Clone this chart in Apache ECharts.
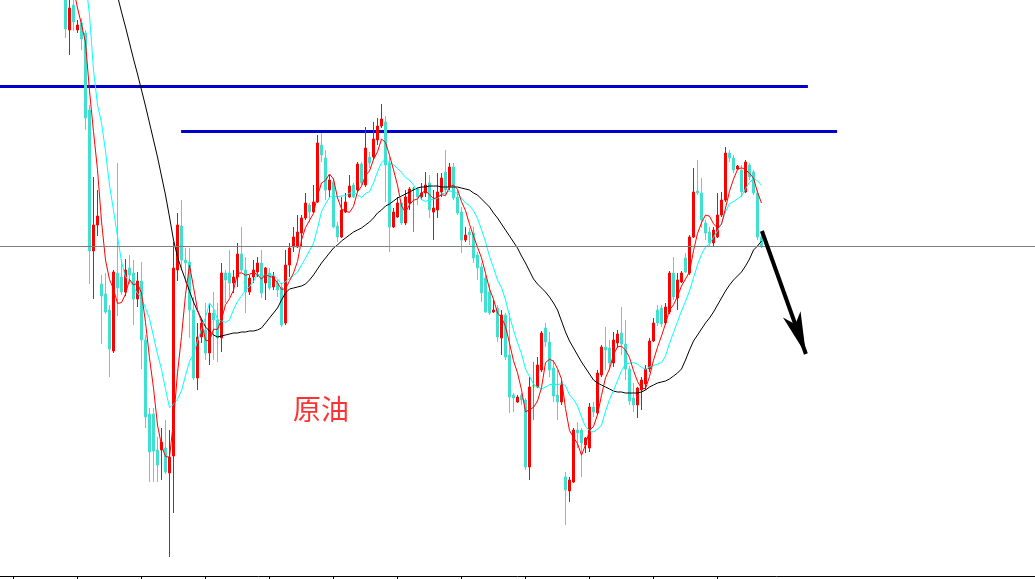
<!DOCTYPE html>
<html><head><meta charset="utf-8">
<script src="https://cdn.jsdelivr.net/npm/echarts@6/dist/echarts.min.js"></script>
<style>html,body{margin:0;padding:0;background:#fff;overflow:hidden}#c{width:1035px;height:579px}</style>
</head><body><div id="c"></div>
<script>
// bar index 0..174 (oldest -> newest), prices in chart points
const opens = [610,570,595,570,577,567,490,349,375,316, 306,290,249,327,323,308,332,327,301,319,
260,186,186,150,150,152,127,144,330,374, 340,338,290,222,263,270,247,287,280,262,
327,327,317,323,346,330,308,323,328,337, 317,327,313,317,313,277,335,353,353,367,
382,395,388,398,455,442,410,418,374,363, 388,403,415,410,436,415,443,443,460,474,
478,437,373,383,397,377,397,411,411,403, 407,417,388,390,408,428,413,433,403,388,
360,368,367,345,333,322,308,288,292,262, 285,245,205,198,205,200,133,214,213,230,
272,258,232,205,198,123,109,118,170,170, 155,152,193,187,225,253,252,237,257,267,
256,231,202,195,210,216,231,259,290,292, 277,288,327,302,318,342,327,363,409,407,
377,368,357,363,385,400,447,442,431,430, 408,435,428,407,363];
const closes = [571,592,578,575,561,482,349,375,384,304, 288,251,328,312,308,330,325,301,319,260,
183,148,149,135,158,128,143,332,375,340, 337,290,222,263,277,247,287,280,262,327,
320,317,323,346,330,308,322,330,337,307, 332,312,324,310,275,335,352,363,368,382,
397,388,398,457,445,410,420,373,363,390, 398,414,403,436,417,452,437,461,474,481,
435,373,388,397,377,403,411,411,403,407, 415,390,392,408,422,410,433,402,387,360,
365,365,342,332,307,288,287,290,263,285, 243,203,202,203,200,133,213,214,235,267,
258,230,204,198,215,110,120,170,167,157, 162,193,188,227,253,250,237,260,266,256,
231,199,195,212,220,231,259,277,277,276, 293,327,303,320,327,328,363,408,407,380,
367,357,370,385,400,447,442,430,434,408, 438,423,407,363,354];
const lows = [562,545,569,567,550,470,316,301,364,256, 286,223,247,284,305,304,316,275,293,231,
172,118,118,118,120,126,43,87,319,330, 317,262,220,210,257,240,235,240,238,248,
297,303,307,313,328,287,305,317,323,302, 300,310,310,303,273,275,323,348,352,353,
380,378,387,397,438,400,403,372,358,362, 387,402,402,408,415,413,432,440,455,472,
398,348,372,382,375,375,390,368,395,400, 403,382,360,382,403,405,410,400,385,347,
358,355,337,320,298,287,285,287,258,245, 240,187,188,197,195,130,120,180,212,228,
253,223,198,180,195,75,98,117,152,123, 147,148,183,185,223,230,230,233,252,245,
220,195,188,182,190,210,228,258,274,273, 275,286,300,290,317,327,325,362,405,372,
360,353,353,362,383,398,438,427,430,403, 407,420,405,360,352];
const highs = [620,605,600,580,582,570,495,423,410,325, 327,295,330,437,341,341,345,340,328,338,
265,192,192,163,172,180,170,358,387,400, 352,352,303,277,280,297,297,308,297,337,
330,350,330,357,373,343,325,340,343,350, 333,332,328,320,317,350,357,373,385,385,
407,397,415,465,467,450,425,422,378,403, 407,425,417,438,438,473,448,478,482,496,
484,443,392,403,398,410,413,413,413,417, 428,425,410,427,427,450,437,437,410,393,
373,372,373,348,337,325,315,300,295,290, 287,287,207,205,207,202,223,238,243,269,
277,268,240,230,219,128,123,172,178,172, 163,197,198,230,255,273,260,268,270,293,
280,234,217,213,223,235,262,282,295,295, 297,329,343,327,329,347,365,432,440,422,
380,373,373,407,408,453,450,445,435,435, 440,437,430,410,368];
// moving-average lines (fast red, middle cyan, slow black)
const maFast = [650,630,612,592,575.4,557.6,509,468.4,430.2,378.8, 340,320.4,311,296.6,297.4,305.8,320.6,315.2,316.6,307,
277.6,242.2,211.8,175,154.6,143.6,142.6,179.2,227.2,263.6, 305.4,334.8,312.8,290.4,277.8,259.8,259.2,270.8,270.6,280.6,
295.2,301.2,309.8,326.6,327.2,324.8,325.8,327.2,325.4,320.8, 325.6,323.6,322.4,317,310.6,311.2,319.2,327,338.6,360,
372.4,379.6,386.6,404.4,417,419.6,426,421,402.2,391.2, 388.8,387.6,393.6,408.2,413.6,424.4,429,440.6,448.2,461,
457.6,444.8,430.2,414.8,394,387.6,395.2,399.8,401,407, 409.4,405.2,401.4,402.4,405.4,404.4,413,415,410.8,398.4,
389.4,375.8,363.8,352.8,342.2,326.8,311.2,300.8,287,282.6, 273.6,256.8,239.2,227.2,210.2,188.2,190.2,192.6,199,212.4,
237.4,240.8,238.8,231.4,221,191.4,169.4,162.6,156.4,144.8, 155.2,169.8,173.4,185.4,204.6,222.2,231,245.4,253.2,253.8,
250,242.4,229.4,218.6,211.4,211.4,223.4,239.8,252.8,264, 276.4,290,295.2,303.8,314,321,328.2,349.2,366.6,377.2,
385,383.8,376.2,371.8,375.8,391.8,408.8,420.8,430.6,432.2, 430.4,426.6,422,407.8,397];
const maMid = [null,null,null,null,640,620,585,530,495,477.1, 448.8,414.7,389.7,363.4,338.1,322.9,320.5,313.1,306.6,302.2,
291.7,281.4,263.5,245.8,230.8,210.6,192.4,195.5,201.1,209.1, 224.5,238.7,246,258.8,270.7,282.6,297,291.8,280.5,279.2,
277.5,280.2,290.3,298.6,303.9,310,313.5,318.5,326,324, 325.2,324.7,324.8,321.2,315.7,318.4,321.4,324.7,327.8,335.3,
341.8,349.4,356.8,371.5,388.5,396,402.8,403.8,403.3,404.1, 404.2,406.8,407.3,405.2,402.4,406.6,408.3,417.1,428.2,437.3,
441,436.9,435.4,431.5,427.5,422.6,420,415,407.9,400.5, 398.5,400.2,400.6,401.7,406.2,406.9,409.1,408.2,406.6,401.9,
396.9,394.4,389.4,381.8,370.3,358.1,343.5,332.3,319.9,312.4, 300.2,284,270,257.1,246.4,230.9,223.5,215.9,213.1,211.3,
212.8,215.5,215.7,215.2,216.7,214.4,205.1,200.7,193.9,182.9, 173.3,169.6,168,170.9,174.7,188.7,200.4,209.4,219.3,229.2,
236.1,236.7,237.4,235.9,232.6,230.7,232.9,234.6,235.7,237.7, 243.9,256.7,267.5,278.3,289,298.7,309.1,322.2,335.2,345.6,
353,356,362.7,369.2,376.5,388.4,396.3,398.5,401.2,404, 411.1,417.7,421.4,419.2,414.6];
const maSlow = [null,null,null,null,null,null,null,null,null,null, null,null,619,604,588,573,557,541,526,510,
494,477,460,443,424,405,383,360,343,331, 320,309,298,289,281,273,269,265,263,264,
265,266,267,267,268,268,269,269,270,272, 277,282,287,292,300,307,311,312,313,314,
316,320,325,331,337,342,347,352,355,359, 362,365,368,370,372,375,378,382,387,390,
394,396,399,402,404,406,408,410,412,413, 413,414,414,414,413,413,413,413,413,412,
411,410,407,405,401,397,393,387,382,376, 370,364,358,352,344,337,329,321,316,312,
308,303,297,290,279,268,259,252,245,238, 232,226,220,217,215,213,211,209,208,208,
207,207,207,207,208,210,213,215,217,218, 219,221,224,227,231,240,250,259,265,271,
277,282,288,295,302,309,315,320,324,328, 334,341,350,354,359];
// drawn objects (bar index, price)
const priceLine = 354;
const upperLineX = [-16.375, 185.6], upperLineY = 513.5;
const lowerLineX = [28.9, 192.9], lowerLineY = 468.5;
const arrowFrom = [174.1, 369], arrowTo = [185.1, 246];
const tickBars = [-13, 3, 19, 35, 51, 67, 83, 99, 115, 131, 147, 163];
const label = '原油';

const BULL = '#ff0000', BEAR = '#40e0d0', DOJI = '#00e000';
const candleData = opens.map((o, i) => {
  const item = { value: [i, o, closes[i], lows[i], highs[i]] };
  if (o === closes[i]) item.itemStyle = { color: DOJI, color0: DOJI, borderColor: DOJI, borderColor0: DOJI, borderColorDoji: DOJI };
  return item;
});
const toLine = arr => arr.map((v, i) => [i, v]);

const chart = echarts.init(document.getElementById('c'), null, { renderer: 'canvas' });
chart.setOption({
  animation: false,
  backgroundColor: '#ffffff',
  grid: { left: 0, right: 0, top: 0, bottom: 3, containLabel: false, outerBoundsMode: 'none' },
  xAxis: {
    type: 'value', min: -16.375, max: 242.375,
    splitLine: { show: false },
    axisLabel: { show: false },
    axisLine: { show: true, onZero: false, lineStyle: { color: '#000', width: 1 } },
    axisTick: { show: true, length: 3, customValues: tickBars, lineStyle: { color: '#000', width: 1 } }
  },
  yAxis: { type: 'value', min: 24, max: 600, show: false, splitLine: { show: false } },
  series: [
    { type: 'line', z: 1, data: [[upperLineX[0], upperLineY], [upperLineX[1], upperLineY]], symbol: 'none',
      lineStyle: { color: '#0000c8', width: 3 }, silent: true },
    { type: 'line', z: 1, data: [[lowerLineX[0], lowerLineY], [lowerLineX[1], lowerLineY]], symbol: 'none',
      lineStyle: { color: '#0000c8', width: 3 }, silent: true,
      markLine: { silent: true, symbol: 'none', label: { show: false },
        lineStyle: { color: '#808080', width: 1, type: 'solid' }, data: [{ yAxis: priceLine }] } },
    { type: 'candlestick', z: 2, data: candleData, barWidth: 2, clip: true,
      itemStyle: { color: BULL, color0: BEAR, borderColor: BULL, borderColor0: BEAR, borderWidth: 1 } },
    { type: 'line', z: 3, data: toLine(maSlow), symbol: 'none', lineStyle: { color: '#000000', width: 1 }, clip: true },
    { type: 'line', z: 3, data: toLine(maMid), symbol: 'none', lineStyle: { color: '#00ffff', width: 1 }, clip: true },
    { type: 'line', z: 3, data: toLine(maFast), symbol: 'none', lineStyle: { color: '#ff0000', width: 1 }, clip: true },
    { type: 'line', z: 4, data: [arrowFrom, arrowTo], symbol: 'none', lineStyle: { opacity: 0, width: 0 },
      markLine: { silent: true, symbol: ['none', 'arrow'], symbolSize: [14, 42], label: { show: false },
        lineStyle: { color: '#000000', width: 4, type: 'solid' },
        data: [[{ coord: arrowFrom }, { coord: arrowTo }]] } }
  ],
  graphic: [{ type: 'text', x: 321, y: 409, z: 10,
    style: { text: label, fill: '#ff3333', font: '28px "Noto Sans CJK SC", sans-serif', align: 'center', verticalAlign: 'middle' } }]
});
</script></body></html>
